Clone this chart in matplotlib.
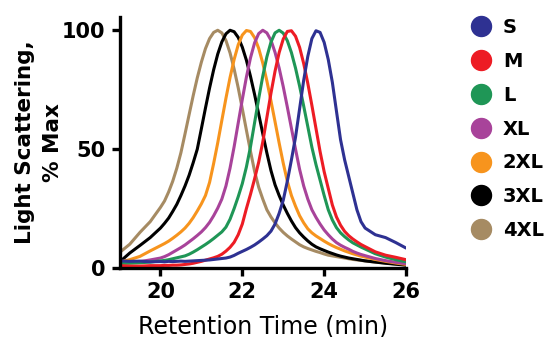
import matplotlib
matplotlib.use("Agg")
import matplotlib.pyplot as plt
from matplotlib.lines import Line2D

time = [19.0, 19.25, 19.5, 19.75, 20.0,
        20.1, 20.2, 20.3, 20.4, 20.5, 20.6, 20.7, 20.8, 20.9, 21.0,
        21.1, 21.2, 21.3, 21.4, 21.5, 21.6, 21.7, 21.8, 21.9, 22.0,
        22.1, 22.2, 22.3, 22.4, 22.5, 22.6, 22.7, 22.8, 22.9, 23.0,
        23.1, 23.2, 23.3, 23.4, 23.5, 23.6, 23.7, 23.8, 23.9, 24.0,
        24.1, 24.2, 24.3, 24.4, 24.5, 24.6, 24.7, 24.8, 24.9, 25.0,
        25.25, 25.5, 25.75, 26.0]

# light scattering, % max (estimated from the figure)
s_vals = [3.0, 2.8, 2.9, 2.6, 2.7,
          2.6, 2.8, 2.7, 2.8, 2.9, 2.8, 2.9, 3.0, 3.1, 3.2,
          3.3, 3.4, 3.6, 3.8, 4.0, 4.2, 4.6, 5.3, 6.2, 7.0,
          7.8, 8.7, 9.7, 10.9, 12.2, 13.6, 15.5, 18.5, 23.0, 28.5,
          36.5, 45.5, 55.0, 67.0, 79.0, 89.0, 96.5, 99.8, 99.1, 94.9,
          87.7, 78.1, 66.0, 54.0, 45.5, 38.5, 31.5, 24.5, 19.5, 16.8,
          14.0, 12.8, 10.7, 8.4]
m_vals = [1.0, 0.8, 0.8, 1.0, 1.0,
          1.1, 1.1, 1.2, 1.2, 1.3, 1.5, 1.7, 2.0, 2.4, 2.8,
          3.3, 3.8, 4.3, 4.9, 5.8, 7.1, 8.7, 10.8, 14.0, 18.5,
          25.0, 31.0, 37.5, 44.5, 53.0, 63.3, 73.5, 82.8, 90.6, 96.3,
          99.5, 99.8, 97.5, 92.8, 86.0, 77.7, 68.4, 58.7, 49.0, 40.5,
          33.5, 26.5, 21.5, 18.0, 15.4, 13.6, 12.2, 11.0, 9.9, 9.0,
          6.8, 5.4, 4.5, 3.5]
l_vals = [2.0, 2.0, 2.2, 2.5, 3.0,
          3.2, 3.5, 3.9, 4.3, 4.7, 5.1, 5.8, 6.7, 7.7, 8.8,
          9.9, 11.1, 12.4, 13.8, 15.2, 17.2, 20.5, 25.0, 30.0, 35.5,
          42.5, 51.0, 61.1, 71.2, 80.7, 88.8, 95.0, 98.9, 100.0, 98.8,
          95.6, 90.6, 84.1, 76.5, 68.1, 59.5, 50.8, 43.5, 37.0, 30.5,
          24.5, 20.2, 17.0, 14.8, 13.2, 11.8, 10.6, 9.7, 8.8, 8.0,
          6.0, 4.6, 3.5, 2.6]
xl_vals = [2.0, 2.3, 2.7, 3.4, 4.2,
           4.8, 5.6, 6.6, 7.6, 8.6, 9.7, 11.0, 12.3, 13.7, 15.2,
           17.0, 19.2, 22.0, 25.2, 29.0, 34.5, 42.0, 51.0, 61.0, 70.9,
           80.3, 88.4, 94.7, 98.6, 100.0, 98.9, 95.8, 90.7, 84.1, 76.3,
           67.7, 58.8, 50.0, 41.5, 34.5, 29.0, 24.5, 21.3, 18.5, 16.0,
           14.0, 12.2, 10.7, 9.6, 8.7, 7.9, 7.0, 6.3, 5.7, 5.2,
           4.0, 3.1, 2.4, 1.8]
xxl_vals = [2.5, 3.5, 4.9, 7.2, 9.4,
            10.3, 11.3, 12.5, 13.8, 15.2, 16.8, 18.8, 21.2, 24.0, 27.0,
            30.5, 36.0, 44.0, 52.7, 62.1, 71.4, 80.1, 87.7, 93.9, 98.0,
            99.9, 99.5, 96.9, 92.4, 86.2, 78.7, 70.3, 61.5, 52.6, 44.1,
            36.5, 30.5, 26.0, 22.0, 19.0, 16.5, 14.8, 13.5, 12.4, 11.3,
            10.3, 9.4, 8.6, 7.9, 7.2, 6.6, 6.0, 5.5, 5.0, 4.6,
            3.6, 2.8, 2.1, 1.5]
xxxl_vals = [2.5, 6.3, 9.5, 12.8, 16.8,
             18.8, 21.0, 23.8, 26.8, 30.5, 34.5, 39.0, 44.3, 50.0, 58.6,
             67.3, 75.7, 83.4, 90.0, 95.1, 98.5, 100.0, 99.4, 97.0, 92.9,
             87.4, 80.6, 73.0, 64.8, 56.5, 48.4, 41.0, 35.0, 30.5, 26.5,
             23.0, 19.8, 17.0, 14.8, 13.0, 11.4, 10.0, 8.9, 8.1, 7.4,
             6.7, 6.1, 5.5, 5.0, 4.6, 4.2, 3.9, 3.6, 3.3, 3.0,
             2.5, 2.0, 1.6, 1.2]
xxxxl_vals = [6.5, 10.0, 15.0, 19.5, 25.5,
              28.2, 32.0, 36.5, 42.0, 48.5, 56.4, 64.5, 72.5, 80.0, 86.6,
              92.3, 96.5, 99.1, 100.0, 98.9, 95.7, 90.5, 83.7, 75.8, 67.0,
              58.0, 49.1, 40.7, 34.0, 29.0, 24.5, 21.5, 19.0, 16.8, 15.0,
              13.5, 12.2, 11.0, 9.8, 8.9, 8.2, 7.6, 7.0, 6.5, 5.9,
              5.4, 5.1, 4.8, 4.5, 4.2, 3.9, 3.6, 3.4, 3.2, 3.0,
              2.5, 2.1, 1.7, 1.3]

sizes = ["S", "M", "L", "XL", "2XL", "3XL", "4XL"]
colors = ["#2e3192", "#ed1c24", "#1f9656", "#a8439a", "#f7941d", "#000000", "#a68b63"]
series = [s_vals, m_vals, l_vals, xl_vals, xxl_vals, xxxl_vals, xxxxl_vals]

plt.rcParams["font.family"] = ["DejaVu Sans"]

fig = plt.figure(figsize=(5.45, 3.37), dpi=100)
ax = fig.add_axes([0.2193, 0.2047, 0.5257, 0.7457])

# latest-eluting first so S ends up on top
for col, vals in reversed(list(zip(colors, series))):
    ax.plot(time, vals, color=col, lw=2.2, solid_capstyle="round")

ax.set_xlim(19, 26)
ax.set_ylim(0, 105.7)
ax.set_xticks([20, 22, 24, 26])
ax.set_yticks([0, 50, 100])
for sp in ["top", "right"]:
    ax.spines[sp].set_visible(False)
for sp in ["left", "bottom"]:
    ax.spines[sp].set_linewidth(2.4)
ax.tick_params(direction="out", length=6, width=2.4, labelsize=15, pad=4)
for lab in ax.get_xticklabels() + ax.get_yticklabels():
    lab.set_fontweight("bold")

ax.set_xlabel("Retention Time (min)", fontsize=17, va="center")
ax.xaxis.set_label_coords(0.5, -0.232)
ax.set_ylabel("Light Scattering,\n% Max", fontsize=15.5, fontweight="bold",
              linespacing=1.5, va="center")
ax.yaxis.set_label_coords(-0.28, 0.5)

handles = [Line2D([], [], marker="o", ls="none", markersize=14.4,
                  markerfacecolor=c, markeredgecolor=c) for c in colors]
fig.legend(handles, sizes, loc="upper left", bbox_to_anchor=(0.8655, 0.946),
           frameon=False, handlelength=1.0, handletextpad=0.6,
           labelspacing=0.76, borderpad=0, borderaxespad=0,
           prop={"weight": "bold", "size": 14})

fig.savefig("out.png", dpi=100)
